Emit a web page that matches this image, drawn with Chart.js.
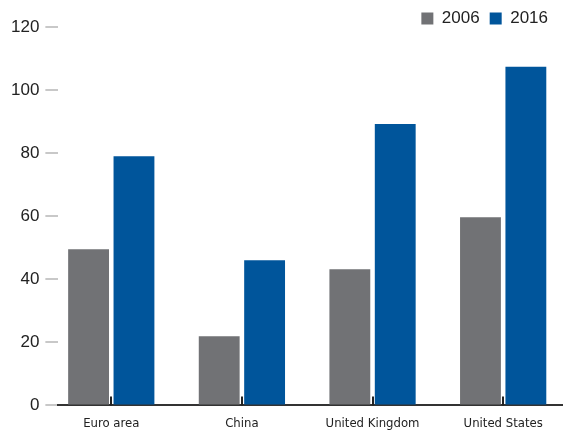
<!DOCTYPE html>
<html>
<head>
<meta charset="utf-8">
<script src="https://cdn.jsdelivr.net/npm/chart.js@4/dist/chart.umd.min.js"></script>
<style>
html,body{margin:0;padding:0;background:#fff;overflow:hidden;}
canvas{display:block;}
</style>
</head>
<body>
<canvas id="c" width="563" height="434"></canvas>
<script>
const categories = ["Euro area", "China", "United Kingdom", "United States"];
const seriesNames = ["2006", "2016"];
const values2006 = [49.5, 21.9, 43.2, 59.7];
const values2016 = [79.0, 46.0, 89.2, 107.4];
const yTicks = [0, 20, 40, 60, 80, 100, 120];

const toPoints = arr => arr.map((v, i) => ({x: i, y: v}));

// short category tick marks pointing up from the x axis, placed by the x scale
const innerTicks = {
  id: 'innerTicks',
  afterDatasetsDraw(chart) {
    const xs = chart.scales.x, ctx = chart.ctx, bottom = chart.chartArea.bottom;
    ctx.save();
    ctx.strokeStyle = '#222';
    ctx.lineWidth = 2;
    categories.forEach((c, i) => {
      const px = Math.round(xs.getPixelForValue(i));
      ctx.beginPath();
      ctx.moveTo(px, bottom);
      ctx.lineTo(px, bottom - 9);
      ctx.stroke();
    });
    ctx.restore();
  }
};

const legendFit = {
  id: 'legendFit',
  beforeInit(chart) {
    const lg = chart.legend;
    const fit = lg.fit;
    lg.fit = function () { fit.call(this); this.height = 27; };
  },
  afterLayout(chart) {
    chart.legend.right -= 5;
  }
};

new Chart(document.getElementById('c'), {
  type: 'bar',
  data: {
    datasets: [
      {label: seriesNames[0], data: toPoints(values2006), backgroundColor: '#717275', categoryPercentage: 0.695, barPercentage: 0.9},
      {label: seriesNames[1], data: toPoints(values2016), backgroundColor: '#00559b', categoryPercentage: 0.695, barPercentage: 0.9}
    ]
  },
  plugins: [innerTicks, legendFit],
  options: {
    responsive: false,
    animation: false,
    layout: {padding: {left: 5, right: 0, top: 0, bottom: -7}},
    plugins: {
      legend: {
        position: 'top',
        align: 'end',
        labels: {
          boxWidth: 12, boxHeight: 12, padding: 10, color: '#222',
          font: {family: "'Liberation Sans', Arial, sans-serif", size: 17}
        }
      },
      tooltip: {enabled: false}
    },
    scales: {
      x: {
        type: 'linear',
        min: -0.405,
        max: 3.458,
        offset: false,
        grid: {drawOnChartArea: false, drawTicks: false, offset: false},
        border: {display: true, color: '#333', width: 2},
        afterBuildTicks: axis => { axis.ticks = categories.map((c, i) => ({value: i})); },
        ticks: {
          autoSkip: false, maxRotation: 0, padding: 10, color: '#222',
          font: {family: "'Liberation Sans Narrow', 'Arial Narrow', 'DejaVu Sans Condensed', sans-serif", size: 13},
          callback: v => categories[v] ?? ''
        }
      },
      y: {
        min: 0, max: 120,
        afterBuildTicks: axis => { axis.ticks = yTicks.map(v => ({value: v})); },
        grid: {drawOnChartArea: false, color: '#c8c8c8', tickLength: 13, lineWidth: 2},
        border: {display: false},
        ticks: {
          padding: 6, color: '#222',
          font: {family: "'Liberation Sans', Arial, sans-serif", size: 17}
        }
      }
    }
  }
});
</script>
</body>
</html>
